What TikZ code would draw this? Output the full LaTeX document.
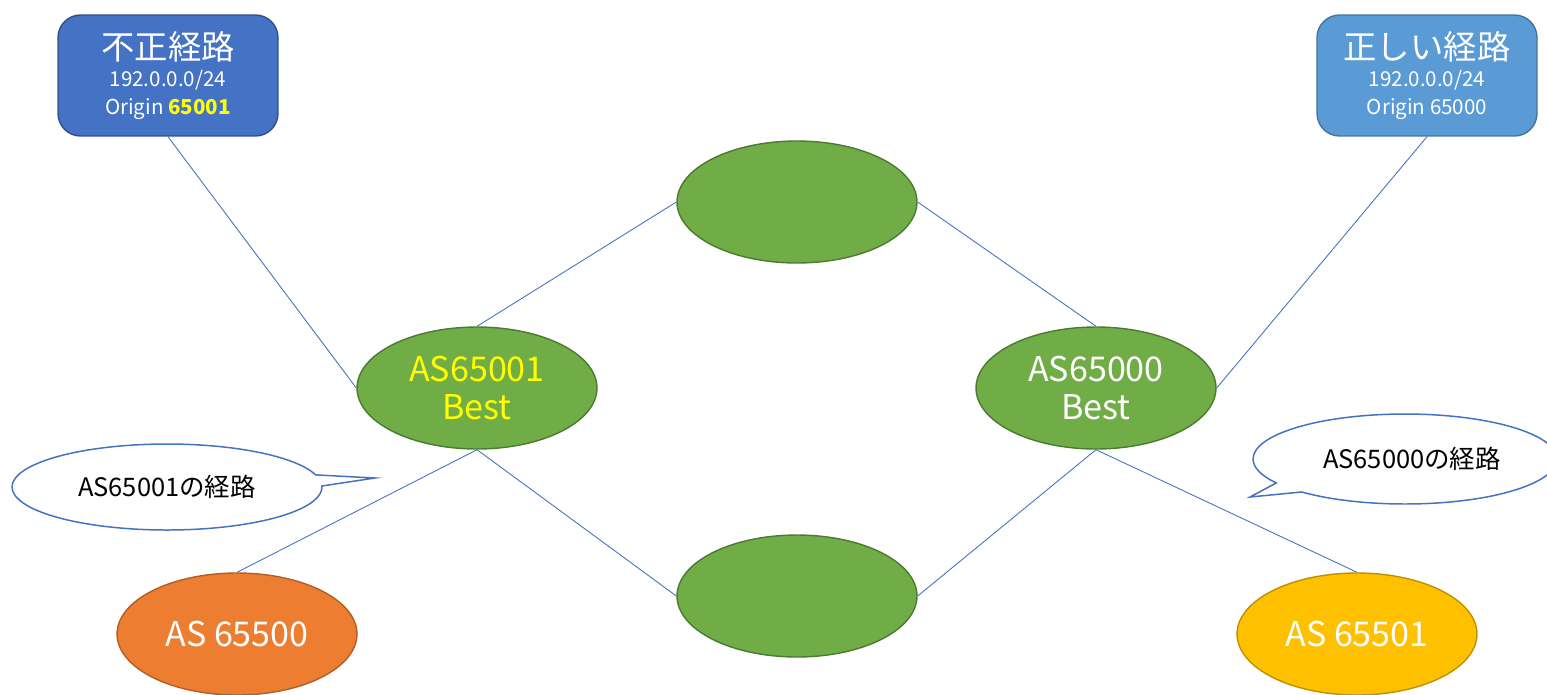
\documentclass[tikz,border=0pt]{standalone}
\usepackage{fontspec}
\setmainfont{Noto Sans CJK JP}
\usetikzlibrary{shapes.geometric,shapes.callouts}
\definecolor{boxdark}{HTML}{4472C4}
\definecolor{boxlight}{HTML}{5B9BD5}
\definecolor{asgreen}{HTML}{70AD47}
\definecolor{asorange}{HTML}{ED7D31}
\definecolor{asyellow}{HTML}{FFC000}
\definecolor{hiyellow}{HTML}{FFFF00}
\begin{document}
\begin{tikzpicture}[x=0.02cm,y=-0.02cm,
		link/.style={draw=boxdark, line width=0.5pt},
		routebox/.style={rectangle, rounded corners=0.45cm, line width=0.8pt, text=white,
			minimum width=4.4cm, minimum height=2.42cm, inner sep=0pt, align=center,
			font=\fontsize{11.7}{15.6}\selectfont},
		asnode/.style={ellipse, line width=0.8pt, text=white, align=center,
			minimum width=4.8cm, minimum height=2.44cm, inner sep=0pt,
			font=\fontsize{19.4}{21.6}\selectfont},
		router/.style={asnode, fill=asgreen, draw=asgreen!70!black},
		bubble/.style={ellipse callout, draw=boxdark, fill=white, line width=0.85pt,
			inner sep=0pt, font=\fontsize{14.5}{16}\selectfont},
	]
	\useasboundingbox (0,0) rectangle (1547,694);

	% routes
	\node[routebox, fill=boxdark, draw=boxdark!70!black] (bad) at (168,75.5)
		{{\fontsize{19}{19}\selectfont 不正経路}\\192.0.0.0/24\\Origin \textcolor{hiyellow}{\textbf{65001}}};
	\node[routebox, fill=boxlight, draw=boxlight!75!black] (good) at (1427,75.5)
		{{\fontsize{19}{19}\selectfont 正しい経路}\\192.0.0.0/24\\Origin 65000};

	% routers
	\node[router] (top) at (797,202) {};
	\node[router, text=hiyellow] (as1) at (477,388) {AS65001\\Best};
	\node[router] (as0) at (1096,388) {AS65000\\Best};
	\node[router] (bottom) at (797,596) {};
	\node[asnode, fill=asorange, draw=asorange!75!black] (left) at (237,634) {AS 65500};
	\node[asnode, fill=asyellow, draw=asyellow!75!black] (right) at (1357,634) {AS 65501};

	% links
	\draw[link] (bad.south) -- (as1.west);
	\draw[link] (good.south) -- (as0.east);
	\draw[link] (top.west) -- (as1.north);
	\draw[link] (top.east) -- (as0.north);
	\draw[link] (as1.south) -- (bottom.west);
	\draw[link] (as0.south) -- (bottom.east);
	\draw[link] (as1.south) -- (left.north);
	\draw[link] (as0.south) -- (right.north);

	% callouts
	\node[bubble, minimum width=6.2cm, minimum height=1.72cm,
		callout absolute pointer={(375,478)}] (say1) at (167,487) {AS65001の経路};
	\node[bubble, minimum width=6.08cm, minimum height=1.8cm,
		callout absolute pointer={(1250,497)}] (say0) at (1405,459) {\hspace{8pt}AS65000の経路};
\end{tikzpicture}
\end{document}
